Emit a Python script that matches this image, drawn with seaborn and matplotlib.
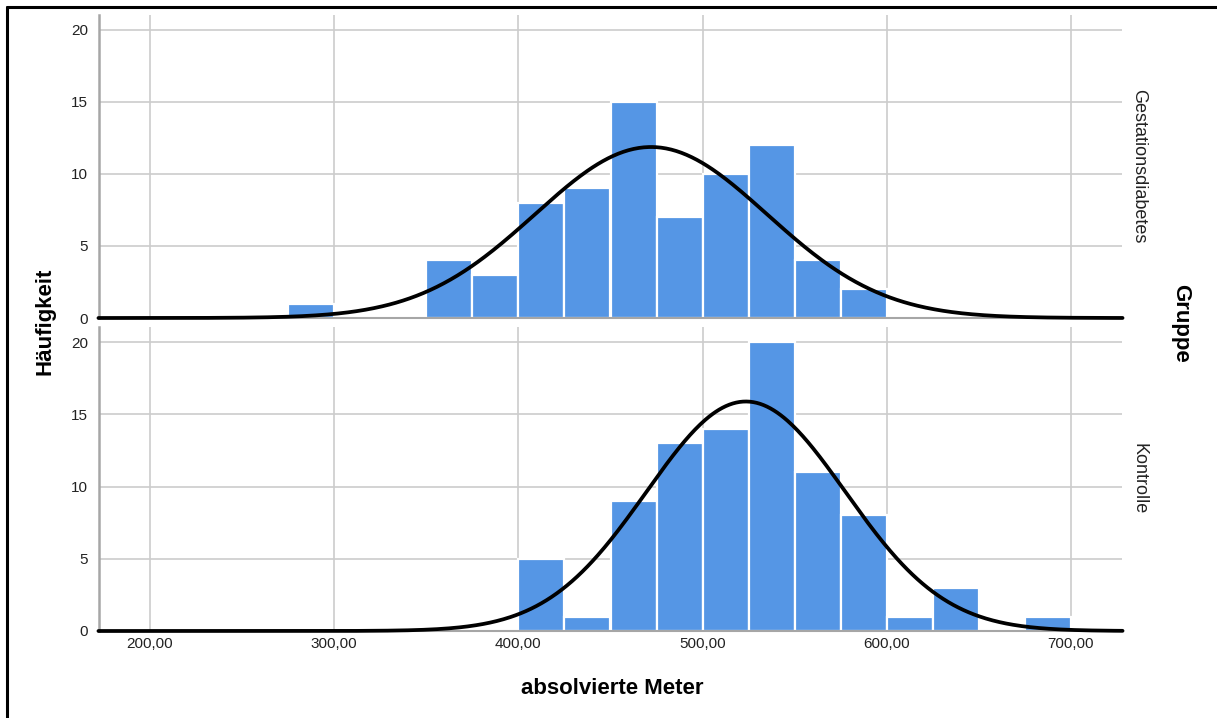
import numpy as np
import pandas as pd
import matplotlib
matplotlib.use("Agg")
import matplotlib.pyplot as plt
from matplotlib.lines import Line2D
import seaborn as sns

# ---- data ----
bin_edges = [275, 300, 325, 350, 375, 400, 425, 450, 475, 500, 525,
             550, 575, 600, 625, 650, 675, 700]
groups = ["Gestationsdiabetes", "Kontrolle"]
counts_gdm = [1, 0, 0, 4, 3, 8, 9, 15, 7, 10, 12, 4, 2, 0, 0, 0, 0]
counts_ctrl = [0, 0, 0, 0, 0, 5, 1, 9, 13, 14, 20, 11, 8, 1, 3, 0, 1]
mean_gdm, sd_gdm = 472.0, 63.0
mean_ctrl, sd_ctrl = 523.5, 54.0
x_ticks = [200, 300, 400, 500, 600, 700]
x_tick_labels = ["200,00", "300,00", "400,00", "500,00", "600,00", "700,00"]
y_ticks = [0, 5, 10, 15, 20]

sns.set_theme(style="white")
plt.rcParams["font.family"] = ["Liberation Sans", "DejaVu Sans"]

W, H = 1217, 718
fig = plt.figure(figsize=(W / 100, H / 100), dpi=100)

def fx(px):
    return px / W

def fy(py):
    return 1 - py / H

left, right = 99, 1122
panels = [(15, 318), (327, 631)]
bar_color = "#5596E5"
grid_color = "#CCCCCC"
text_color = "#222222"

centers = [(a + b) / 2 for a, b in zip(bin_edges[:-1], bin_edges[1:])]
binw = bin_edges[1] - bin_edges[0]
series = [(counts_gdm, mean_gdm, sd_gdm), (counts_ctrl, mean_ctrl, sd_ctrl)]
xgrid = np.linspace(172, 728, 600)

for i, ((top, bot), (cnts, mu, sd)) in enumerate(zip(panels, series)):
    ax = fig.add_axes([fx(left), fy(bot), fx(right - left), fy(top) - fy(bot)])
    df = pd.DataFrame({"x": centers, "w": cnts})
    sns.histplot(data=df, x="x", weights="w", bins=bin_edges, ax=ax,
                 color=bar_color, alpha=1, edgecolor="white", linewidth=1.6,
                 zorder=2)
    n = sum(cnts)
    dens = n * binw / (sd * np.sqrt(2 * np.pi)) * np.exp(-0.5 * ((xgrid - mu) / sd) ** 2)
    sns.lineplot(x=xgrid, y=dens, ax=ax, color="black", linewidth=2.7,
                 zorder=4, clip_on=False)
    ax.set_xlim(172.3, 727.7)
    ax.set_ylim(0, 21.04)
    ax.set_xticks(x_ticks)
    ax.set_yticks(y_ticks)
    ax.set_yticklabels([str(v) for v in y_ticks], fontsize=11, color=text_color)
    if i == 1:
        ax.set_xticklabels(x_tick_labels, fontsize=11, color=text_color)
    else:
        ax.set_xticklabels([])
    ax.tick_params(axis="x", length=0, pad=4)
    ax.tick_params(axis="y", length=0, pad=8)
    ax.grid(True, color=grid_color, linewidth=1.2)
    ax.set_axisbelow(True)
    for s in ["top", "right"]:
        ax.spines[s].set_visible(False)
    ax.spines["left"].set_color("#A6A6A6")
    ax.spines["left"].set_linewidth(1.8)
    ax.spines["bottom"].set_color("#A6A6A6")
    ax.spines["bottom"].set_linewidth(1.5)
    ax.spines["bottom"].set_zorder(3)
    ax.set_xlabel("")
    ax.set_ylabel("")
    # facet label
    fig.text(fx(1139), fy((top + bot) / 2), groups[i], rotation=-90,
             ha="center", va="center", fontsize=13, color=text_color)

fig.text(fx(45), fy(321), "Häufigkeit", rotation=90, ha="center", va="center",
         fontsize=16, fontweight="bold", color="black")
fig.text(fx(1181), fy(323), "Gruppe", rotation=-90, ha="center", va="center",
         fontsize=16, fontweight="bold", color="black")
fig.text(fx(612), fy(688), "absolvierte Meter", ha="center",
         va="center", fontsize=16, fontweight="bold", color="black")

# outer frame (left and top edges visible)
fig.add_artist(Line2D([fx(7), fx(7)], [fy(7), 0], color="black", linewidth=2.2,
                      transform=fig.transFigure))
fig.add_artist(Line2D([fx(7), 1], [fy(7), fy(7)], color="black", linewidth=2.2,
                      transform=fig.transFigure))

fig.savefig("out.png", dpi=100)
